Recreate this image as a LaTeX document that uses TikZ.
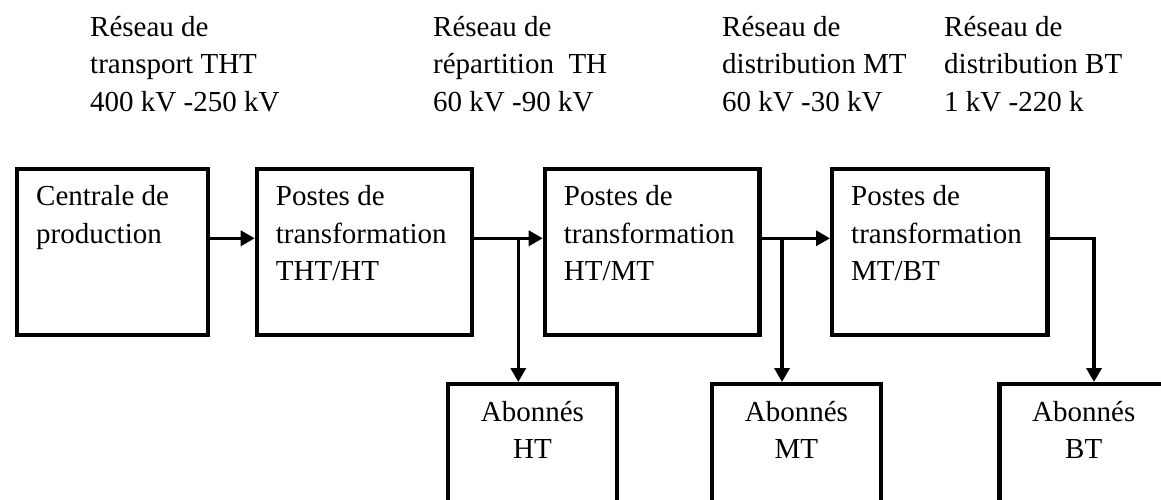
\documentclass[tikz,border=0pt]{standalone}
\usepackage{fontspec}
\setmainfont{Liberation Serif}
\usetikzlibrary{arrows.meta}
\begin{document}
\begin{tikzpicture}[x=1pt,y=-1pt,
  box/.style 2 args={draw, line width=4.2pt, rectangle, inner sep=0pt,
    anchor=north west, minimum width=#1, minimum height=#2},
  txt/.style={font=\fontsize{29}{37.5}\selectfont, inner sep=0pt, align=left, anchor=north west},
  ctxt/.style={font=\fontsize{29}{37.5}\selectfont, inner sep=0pt, align=center, anchor=north},
  arr/.style={line width=3.6pt, -{Triangle[length=14pt,width=15pt]}}]
\useasboundingbox (0,0) rectangle (1161,499);
\clip (0,0) rectangle (1161,499);

% network labels
\node[txt] (r1) at (90,16) {Réseau de\\transport THT\\400 kV -250 kV};
\node[txt] (r2) at (433,16) {Réseau de\\répartition~ TH\\60 kV -90 kV};
\node[txt] (r3) at (722,16) {Réseau de\\distribution MT\\60 kV -30 kV};
\node[txt] (r4) at (944,16) {Réseau de\\distribution BT\\1 kV -220 k};

% main chain of boxes
\node[box={191pt}{166pt}] (b1) at (15,166.5) {};
\node[box={215pt}{166pt}] (b2) at (254.7,166.5) {};
\node[box={214.6pt}{166pt}] (b3) at (542.7,166.5) {};
\node[box={215.3pt}{166pt}] (b4) at (830,166.5) {};

\node[txt] (t1) at ([xshift=21pt,yshift=-19pt]b1.north west) {Centrale de\\production};
\node[txt] (t2) at ([xshift=21pt,yshift=-19pt]b2.north west) {Postes de\\transformation\\THT/HT};
\node[txt] (t3) at ([xshift=21pt,yshift=-19pt]b3.north west) {Postes de\\transformation\\HT/MT};
\node[txt] (t4) at ([xshift=21pt,yshift=-19pt]b4.north west) {Postes de\\transformation\\MT/BT};

% subscriber boxes
\node[box={168.7pt}{160pt}] (ah) at (446,382) {};
\node[box={168.7pt}{160pt}] (am) at (710,382) {};
\node[box={168.7pt}{160pt}] (ab) at (997.3,382) {};

\node[ctxt] (th) at ([yshift=-19pt]ah.north) {Abonnés\\HT};
\node[ctxt] (tm) at ([yshift=-19pt]am.north) {Abonnés\\MT};
\node[ctxt] (tb) at ([yshift=-19pt]ab.north) {Abonnés\\BT};

% junctions on the feeders
\coordinate (j1) at (518.3,238.3);
\coordinate (j2) at (782,238.3);
\coordinate (j3) at (1094,238.3);

% connectors
\draw[arr] ([yshift=-71.8pt]b1.north east) -- ([yshift=-71.8pt]b2.north west);
\draw[arr] ([yshift=-71.8pt]b2.north east) -- ([yshift=-71.8pt]b3.north west);
\draw[arr] ([yshift=-71.8pt]b3.north east) -- ([yshift=-71.8pt]b4.north west);
\draw[arr] (j1) -- (j1 |- ah.north);
\draw[arr] (j2) -- (j2 |- am.north);
\draw[arr] ([yshift=-71.8pt]b4.north east) -- (j3) -- (j3 |- ab.north);
\end{tikzpicture}
\end{document}
